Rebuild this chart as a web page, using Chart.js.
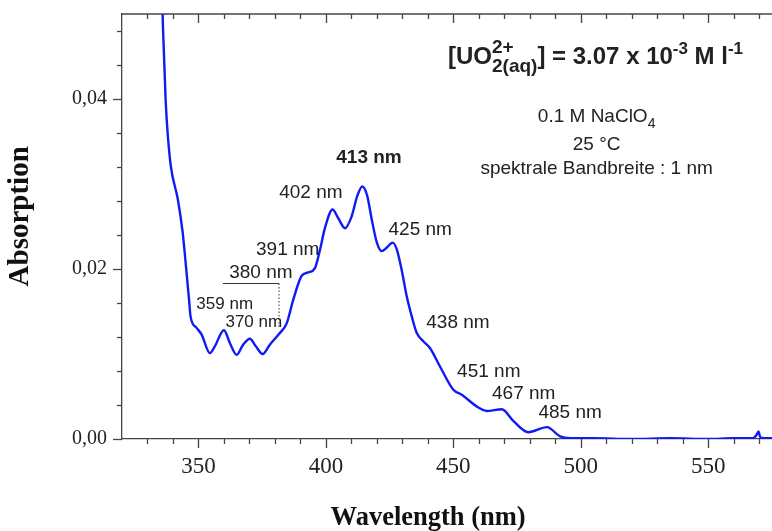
<!DOCTYPE html>
<html>
<head>
<meta charset="utf-8">
<script src="https://cdn.jsdelivr.net/npm/chart.js@4.4.1/dist/chart.umd.min.js"></script>
<style>
  body { margin: 0; background: #fff; }
  #wrap { width: 772px; height: 531px; }
</style>
</head>
<body>
<div id="wrap"><canvas id="myChart"></canvas></div>
<script>
// spectrum
var wavelength = [335.6, 336.1, 337.1, 337.9, 339.2, 341.9, 343.8, 345.1, 346.3, 346.9, 349.2, 351.2,
  354.5, 356.4, 360.0, 362.3, 365.0, 367.5, 370.2, 372.5, 375.2, 378.0, 382.0, 384.6, 387.2,
  390.5, 393.1, 395.7, 397.7, 399.6, 402.6, 404.8, 407.5, 410.1, 412.3, 414.3, 416.2, 418.0,
  419.9, 421.9, 423.8, 426.2, 427.8, 429.7, 431.7, 433.7, 435.6, 438.2, 440.8, 444.8, 450.0,
  453.3, 459.8, 463.1, 469.0, 473.6, 479.4, 486.7, 491.9, 495.8, 505, 520, 535, 550, 560,
  567.5, 569.0, 569.7, 570.4, 572, 576];
var absorbance = [0.0540, 0.0482, 0.0400, 0.0360, 0.0320, 0.0282, 0.0243, 0.0203, 0.0164, 0.0144, 0.0131, 0.0123,
  0.0101, 0.0109, 0.0128, 0.0113, 0.0099, 0.0111, 0.0118, 0.0109, 0.0100, 0.0111, 0.0125, 0.0136, 0.0164,
  0.0192, 0.0196, 0.0201, 0.0223, 0.0248, 0.0270, 0.0260, 0.0248, 0.0262, 0.0286, 0.0297, 0.0286, 0.0258,
  0.0232, 0.0221, 0.0225, 0.0231, 0.0223, 0.0199, 0.0168, 0.0144, 0.0125, 0.0115, 0.0107, 0.0085, 0.0058,
  0.0052, 0.0037, 0.0033, 0.0035, 0.0021, 0.0008, 0.0014, 0.0003, 0.0001, 0.0001, 0.0000, 0.0001, 0.0000, 0.0001,
  0.0001, 0.0005, 0.0009, 0.0002, 0.0001, 0.0001];

var xTicks = [350, 400, 450, 500, 550];
var yTicks = [0, 0.02, 0.04];

// peak labels: text, wavelength, absorbance
var peakText = ['413 nm', '402 nm', '391 nm', '380 nm', '359 nm', '370 nm', '425 nm', '438 nm', '451 nm', '467 nm', '485 nm'];
var peakX = [416.9, 394.1, 385.0, 374.5, 360.3, 371.7, 437.0, 451.8, 463.9, 477.6, 495.8];
var peakY = [0.0331, 0.0290, 0.0223, 0.0195, 0.0158, 0.0137, 0.0246, 0.0137, 0.0079, 0.0053, 0.0031];

var points = wavelength.map(function (w, i) { return {x: w, y: absorbance[i]}; });

var SANS = "'Liberation Sans', Arial, sans-serif";
var SERIF = "'Liberation Serif', 'Times New Roman', serif";

function drawRich(ctx, x, y, parts) {
  parts.forEach(function (p) {
    var w = 0;
    p.forEach(function (s) {
      ctx.font = 'bold ' + s.size + 'px ' + SANS;
      ctx.fillText(s.t, x, y + s.dy);
      w = Math.max(w, ctx.measureText(s.t).width);
    });
    x += w;
  });
}

function noEdgePadding(scale) {
  scale.paddingTop = 0;
  scale.paddingBottom = 0;
  scale.paddingLeft = 0;
  scale.paddingRight = 0;
}

var decorations = {
  id: 'decorations',
  afterDraw: function (chart) {
    var ctx = chart.ctx, xs = chart.scales.x, ys = chart.scales.y, a = chart.chartArea;
    ctx.save();
    ctx.strokeStyle = '#444';
    ctx.lineWidth = 1.3;
    // top frame line
    ctx.beginPath();
    ctx.moveTo(a.left, a.top);
    ctx.lineTo(a.right, a.top);
    ctx.stroke();
    // x ticks bottom (outside) and top (inside)
    for (var v = 330; v <= xs.max; v += 10) {
      var px = Math.round(xs.getPixelForValue(v)) + 0.5;
      var major = v % 50 === 0;
      ctx.beginPath();
      ctx.moveTo(px, a.bottom);
      ctx.lineTo(px, a.bottom + (major ? 9 : 5));
      ctx.moveTo(px, a.top);
      ctx.lineTo(px, a.top + (major ? 9 : 5));
      ctx.stroke();
    }
    // y ticks left (outside)
    for (var k = 0; k <= 12; k++) {
      var py = Math.round(ys.getPixelForValue(k * 0.004)) + 0.5;
      var maj = k % 5 === 0;
      ctx.beginPath();
      ctx.moveTo(a.left, py);
      ctx.lineTo(a.left - (maj ? 9 : 5), py);
      ctx.stroke();
    }

    // axis titles
    ctx.fillStyle = '#111';
    ctx.textAlign = 'center';
    ctx.textBaseline = 'middle';
    ctx.font = 'bold 26.5px ' + SERIF;
    ctx.fillText('Wavelength (nm)', xs.getPixelForValue(440.1), a.bottom + 79);
    ctx.save();
    ctx.translate(20.5, ys.getPixelForValue(0.0262));
    ctx.rotate(-Math.PI / 2);
    ctx.font = 'bold 29px ' + SERIF;
    ctx.fillText('Absorption', 0, 0);
    ctx.restore();

    ctx.fillStyle = '#222';
    peakText.forEach(function (t, i) {
      var small = t === '359 nm' || t === '370 nm';
      var bold = t === '413 nm';
      ctx.font = (bold ? 'bold ' : '') + (small ? 17 : 19) + 'px ' + SANS;
      ctx.fillText(t, xs.getPixelForValue(peakX[i]), ys.getPixelForValue(peakY[i]));
    });

    // 380 nm marker
    ctx.strokeStyle = '#333';
    ctx.lineWidth = 1;
    var ux0 = xs.getPixelForValue(359.6), ux1 = xs.getPixelForValue(381.6);
    var uy = Math.round(ys.getPixelForValue(0.0184)) + 0.5;
    ctx.beginPath();
    ctx.moveTo(ux0, uy);
    ctx.lineTo(ux1, uy);
    ctx.stroke();
    ctx.setLineDash([1.5, 2]);
    ctx.beginPath();
    ctx.moveTo(ux1, uy);
    ctx.lineTo(ux1, ys.getPixelForValue(0.0131));
    ctx.stroke();
    ctx.setLineDash([]);

    // conditions
    var cx = xs.getPixelForValue(506.2);
    ctx.font = '19px ' + SANS;
    ctx.textAlign = 'left';
    var s1 = '0.1 M NaClO';
    var w1 = ctx.measureText(s1).width;
    ctx.font = '14px ' + SANS;
    var w2 = ctx.measureText('4').width;
    var y1 = ys.getPixelForValue(0.0379);
    ctx.font = '19px ' + SANS;
    ctx.fillText(s1, cx - (w1 + w2) / 2, y1);
    ctx.font = '14px ' + SANS;
    ctx.fillText('4', cx - (w1 + w2) / 2 + w1, y1 + 7);
    ctx.font = '19px ' + SANS;
    ctx.textAlign = 'center';
    ctx.fillText('25 °C', cx, ys.getPixelForValue(0.0346));
    ctx.fillText('spektrale Bandbreite : 1 nm', cx, ys.getPixelForValue(0.0318));

    // concentration
    ctx.textAlign = 'left';
    ctx.textBaseline = 'alphabetic';
    drawRich(ctx, xs.getPixelForValue(447.9), ys.getPixelForValue(0.04415), [
      [{t: '[UO', size: 24, dy: 0}],
      [{t: '2+', size: 19, dy: -11}, {t: '2(aq)', size: 19, dy: 8}],
      [{t: '] = 3.07 x 10', size: 24, dy: 0}],
      [{t: '-3', size: 17, dy: -10}],
      [{t: ' M l', size: 24, dy: 0}],
      [{t: '-1', size: 17, dy: -10}]
    ]);
    ctx.restore();
  }
};

var ctx = document.getElementById('myChart').getContext('2d');
var myChart = new Chart(ctx, {
  type: 'line',
  data: {
    datasets: [{
      label: 'Absorption',
      data: points,
      borderColor: '#0f1af5',
      borderWidth: 2.4,
      pointRadius: 0,
      fill: false,
      cubicInterpolationMode: 'monotone'
    }]
  },
  options: {
    responsive: true,
    maintainAspectRatio: false,
    animation: false,
    layout: { padding: { top: 14, right: 0, left: 0, bottom: 0 } },
    plugins: { legend: { display: false }, tooltip: { enabled: false } },
    scales: {
      x: {
        type: 'linear',
        min: 320,
        max: 575,
        afterBuildTicks: function (scale) {
          scale.ticks = xTicks.map(function (v) { return {value: v}; });
        },
        afterFit: function (scale) { scale.height = 92; noEdgePadding(scale); },
        grid: { display: true, drawOnChartArea: false, drawTicks: false },
        border: { display: true, color: '#444', width: 1.3 },
        ticks: {
          padding: 14,
          color: '#222',
          font: { family: SERIF, size: 23 },
          callback: function (v) { return String(v); }
        },
        title: { display: false }
      },
      y: {
        min: 0,
        max: 0.05,
        afterBuildTicks: function (scale) {
          scale.ticks = yTicks.map(function (v) { return {value: v}; });
        },
        afterFit: function (scale) { scale.width = 122; noEdgePadding(scale); },
        grid: { display: true, drawOnChartArea: false, drawTicks: false },
        border: { display: true, color: '#444', width: 1.3 },
        ticks: {
          padding: 15,
          color: '#222',
          font: { family: SERIF, size: 20 },
          callback: function (v) { return v.toFixed(2).replace('.', ','); }
        },
        title: { display: false }
      }
    }
  },
  plugins: [decorations]
});
</script>
</body>
</html>
